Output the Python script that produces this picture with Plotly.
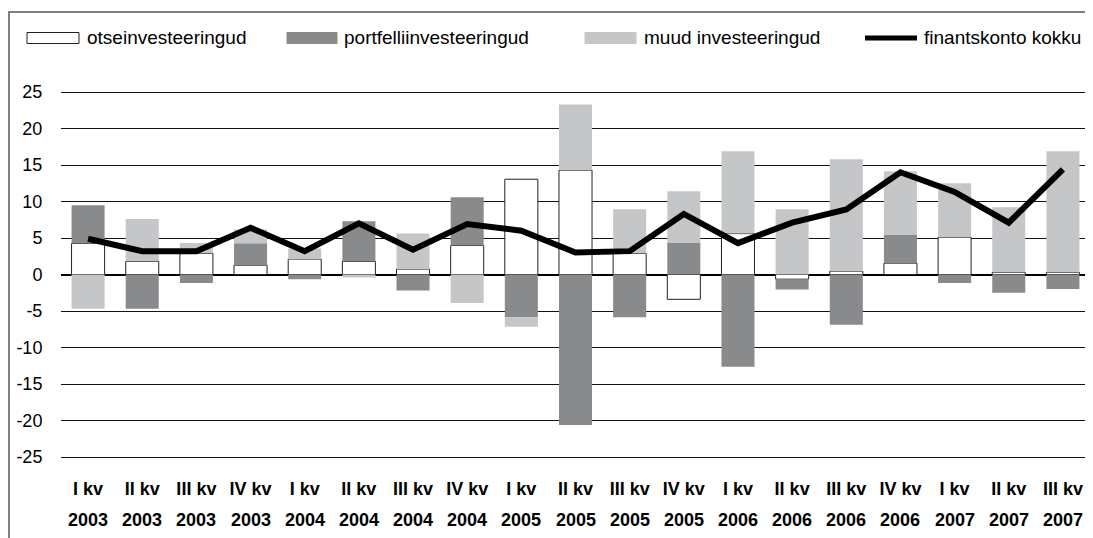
import plotly.graph_objects as go

quarters = ["I kv", "II kv", "III kv", "IV kv", "I kv", "II kv", "III kv", "IV kv",
            "I kv", "II kv", "III kv", "IV kv", "I kv", "II kv", "III kv", "IV kv",
            "I kv", "II kv", "III kv"]
years = ["2003", "2003", "2003", "2003", "2004", "2004", "2004", "2004",
         "2005", "2005", "2005", "2005", "2006", "2006", "2006", "2006",
         "2007", "2007", "2007"]

otse = [4.25, 1.8, 2.9, 1.27, 2.1, 1.8, 0.73, 3.97, 13.05, 14.3, 2.9, -3.4,
        5.6, -0.64, 0.45, 1.55, 5.1, 0.3, 0.3]
portfell = [5.25, -4.7, -1.15, 3.0, -0.64, 5.5, -2.2, 6.6, -5.85, -20.6, -5.85, 4.3,
            -12.65, -1.4, -6.9, 3.85, -1.15, -2.5, -2.0]
muud = [-4.7, 5.8, 1.4, 1.9, 1.45, -0.4, 4.9, -3.9, -1.3, 9.0, 6.05, 7.1,
        11.3, 8.95, 15.35, 8.75, 7.4, 8.9, 16.6]
kokku = [4.9, 3.2, 3.2, 6.4, 3.2, 7.0, 3.4, 6.9, 6.0, 3.0, 3.2, 8.3,
         4.3, 7.1, 8.9, 14.0, 11.3, 7.1, 14.4]

names = ["otseinvesteeringud", "portfelliinvesteeringud", "muud investeeringud", "finantskonto kokku"]
yticks = [25, 20, 15, 10, 5, 0, -5, -10, -15, -20, -25]

FONT = "Arial, Liberation Sans, sans-serif"
C_PORT = "#898A8C"
C_MUUD = "#C5C6C8"

x = list(range(len(quarters)))

fig = go.Figure()
fig.add_trace(go.Bar(x=x, y=otse, name=names[0], marker=dict(color="white", line=dict(color="#222222", width=1))))
fig.add_trace(go.Bar(x=x, y=portfell, name=names[1], marker=dict(color=C_PORT, line=dict(width=0))))
fig.add_trace(go.Bar(x=x, y=muud, name=names[2], marker=dict(color=C_MUUD, line=dict(width=0))))
fig.add_trace(go.Scatter(x=x, y=kokku, name=names[3], mode="lines", line=dict(color="black", width=6)))

OFF = 8  # page body margin
W, H = 1093 - OFF, 538 - OFF
L, R, T, B = 61 - OFF, 3, 82, 79
pw, ph = W - L - R, H - T - B
YHALF = ph / 7.3 / 2


def px(v):
    return (v - OFF - L) / pw


def py(v):
    return (H - B - (v - OFF)) / ph


shapes = []
annotations = []
# outer frame
shapes.append(dict(type="rect", xref="paper", yref="paper", x0=px(9), x1=px(1300), y0=py(800), y1=py(12),
                   line=dict(color="#808080", width=2), fillcolor="rgba(0,0,0,0)"))
# custom legend
leg_y = 38
items = [
    ("box", 27, 79, "white", names[0], 86),
    ("box", 287, 337, C_PORT, names[1], 343),
    ("box", 585, 636, C_MUUD, names[2], 643),
    ("line", 865, 917, "black", names[3], 923),
]
for kind, a, b, col, label, tx in items:
    if kind == "box":
        shapes.append(dict(type="rect", xref="paper", yref="paper", x0=px(a), x1=px(b),
                           y0=py(leg_y + 5.5), y1=py(leg_y - 5.5), fillcolor=col,
                           line=dict(color="#222222" if col == "white" else col, width=1)))
    else:
        shapes.append(dict(type="line", xref="paper", yref="paper", x0=px(a), x1=px(b),
                           y0=py(leg_y), y1=py(leg_y), line=dict(color=col, width=5)))
    annotations.append(dict(text=label, xref="paper", yref="paper", x=px(tx), y=py(leg_y),
                            xanchor="left", yanchor="middle", showarrow=False, borderpad=0,
                            font=dict(family=FONT, size=19, color="black")))
# year row of category labels
for i, yr in enumerate(years):
    annotations.append(dict(text="<b>" + yr + "</b>", xref="x", yref="paper", x=i, y=py(520),
                            xanchor="center", yanchor="middle", showarrow=False,
                            font=dict(family=FONT, size=18, color="black")))

fig.update_layout(
    width=W, height=H,
    margin=dict(l=L, r=R, t=T, b=B),
    barmode="relative",
    bargap=0.39,
    showlegend=False,
    plot_bgcolor="white",
    paper_bgcolor="white",
    font=dict(family=FONT, size=18, color="black"),
    shapes=shapes,
    annotations=annotations,
)
fig.update_xaxes(
    range=[-0.5, len(quarters) - 0.5],
    tickmode="array", tickvals=x, ticktext=["<b>" + q + "</b>" for q in quarters],
    showgrid=False, showline=False, zeroline=False,
    ticks="outside", ticklen=13, tickcolor="rgba(0,0,0,0)",
    tickfont=dict(family=FONT, size=18, color="black"),
)
fig.update_yaxes(
    range=[-YHALF, YHALF], tickmode="array", tickvals=yticks, ticktext=[str(v) for v in yticks],
    showgrid=True, gridcolor="#111111", gridwidth=1,
    zeroline=True, zerolinecolor="black", zerolinewidth=2,
    showline=False, ticks="outside", ticklen=14, tickcolor="rgba(0,0,0,0)",
    tickfont=dict(family=FONT, size=18, color="black"),
)

fig.write_html("out.html")
